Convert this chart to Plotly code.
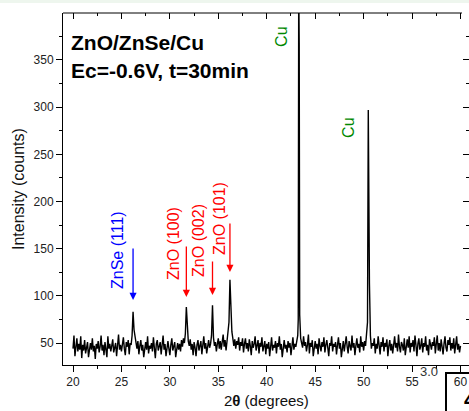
import numpy as np
import plotly.graph_objects as go

# ---- data ----
bg_start, bg_stop, bg_step = 20.0, 60.0, 0.1
bg_counts = [
    44, 58, 36, 47, 55, 41, 49, 43, 57, 34,
    48, 42, 53, 39, 46, 51, 35, 45, 50, 43,
    55, 41, 47, 33, 49, 44, 52, 40, 46, 58,
    42, 48, 37, 51, 45, 35, 57, 44, 49, 41,
    47, 54, 40, 46, 50, 36, 45, 59, 43, 48,
    41, 49, 56, 44, 37, 51, 46, 53, 38, 50,
    48, 58, 83, 64, 55, 50, 44, 52, 38, 47,
    53, 42, 48, 35, 46, 51, 43, 57, 39, 47,
    44, 50, 41, 56, 45, 34, 49, 53, 42, 48,
    51, 38, 46, 58, 43, 49, 36, 47, 52, 44,
    37, 48, 55, 42, 46, 51, 35, 45, 50, 43,
    49, 41, 53, 46, 55, 50, 60, 88, 62, 52,
    47, 54, 43, 49, 37, 51, 45, 36, 48, 53,
    42, 47, 52, 38, 46, 57, 44, 50, 39, 48,
    53, 45, 49, 58, 90, 56, 47, 51, 41, 49,
    55, 44, 52, 43, 50, 59, 46, 53, 42, 51,
    58, 72, 117, 78, 62, 55, 47, 54, 44, 52,
    48, 56, 42, 51, 47, 55, 40, 49, 55, 44,
    50, 41, 54, 47, 37, 52, 45, 49, 57, 42,
    48, 53, 39, 50, 46, 56, 41, 47, 52, 38,
    49, 44, 51, 36, 47, 56, 42, 48, 45, 52,
    39, 50, 46, 57, 43, 49, 35, 47, 53, 44,
    48, 40, 52, 45, 50, 37, 47, 56, 43, 49,
    46, 52, 58, 60, 62, 55, 50, 45, 57, 47,
    51, 41, 48, 59, 39, 50, 46, 53, 36, 47,
    52, 44, 49, 38, 55, 47, 41, 51, 46, 56,
    40, 48, 53, 45, 36, 50, 47, 57, 41, 49,
    46, 51, 38, 48, 56, 44, 50, 35, 47, 52,
    41, 49, 57, 46, 39, 52, 48, 42, 58, 45,
    50, 37, 47, 55, 45, 49, 40, 57, 46, 51,
    42, 52, 47, 62, 70, 90, 70, 52, 44, 50,
    47, 55, 39, 49, 44, 57, 48, 38, 51, 46,
    56, 41, 50, 46, 54, 36, 47, 53, 42, 49,
    39, 48, 57, 45, 50, 41, 59, 46, 40, 51,
    48, 42, 55, 37, 47, 54, 45, 57, 40, 50,
    46, 53, 41, 58, 48, 36, 49, 55, 43, 47,
    55, 40, 50, 46, 57, 42, 48, 37, 54, 47,
    43, 51, 47, 56, 39, 49, 58, 42, 50, 41,
    54, 46, 38, 49, 57, 45, 41, 53, 48, 56,
    42, 50, 44, 55, 39, 48, 57, 43, 49, 40,
    47,
]
cu_theta = [43.25, 43.3, 43.35, 43.4, 50.4, 50.48, 50.5, 50.55, 50.6, 50.7]
cu_counts = [75, 430, 368, 80, 72, 297, 245, 182, 113, 58]

peak_labels = ["ZnSe (111)", "ZnO (100)", "ZnO (002)", "ZnO (101)"]
peak_pos = [26.2, 31.7, 34.4, 36.2]
peak_colors = ["#0000ff", "#ff0000", "#ff0000", "#ff0000"]
arrow_tip = [95.6, 98.8, 100.9, 125.3]
arrow_tail = [151.8, 153.9, 138.0, 178.3]
label_x = [24.65, 30.32, 33.0, 35.07]
label_y = [148.6, 156.0, 159.2, 182.5]

cu_label_x = [41.57, 48.49]
cu_label_y = [374.4, 278.0]

x_ticks = [20, 25, 30, 35, 40, 45, 50, 55, 60]
y_ticks = [50, 100, 150, 200, 250, 300, 350]

# ---- assemble ----
bg_theta = np.round(np.arange(bg_start, bg_stop + 1e-6, bg_step), 2)
pts = {round(float(t), 2): float(c) for t, c in zip(bg_theta, bg_counts)}
for t, c in zip(cu_theta, cu_counts):
    pts[round(t, 2)] = float(c)
xs = sorted(pts)
ys = [pts[k] for k in xs]

FONT = "Liberation Sans, Arial, sans-serif"
xr = [18.968, 60.877]
yr = [26.68, 399.8]

fig = go.Figure()
fig.add_trace(go.Scatter(x=xs, y=ys, mode="lines",
                         line=dict(color="black", width=1.4), showlegend=False,
                         hoverinfo="skip"))
fig.add_trace(go.Scatter(x=[xr[0]], y=[yr[0]], xaxis="x2", yaxis="y2",
                         mode="markers", marker=dict(opacity=0),
                         showlegend=False, hoverinfo="skip"))

annotations = []
for lab, px, col, tip, tail, lx, ly in zip(peak_labels, peak_pos, peak_colors,
                                           arrow_tip, arrow_tail, label_x, label_y):
    annotations.append(dict(x=px, y=tip, ax=px, ay=tail, axref="x", ayref="y",
                            xref="x", yref="y", text="", showarrow=True,
                            arrowhead=2, arrowsize=1.1, arrowwidth=1.3,
                            arrowcolor=col))
    annotations.append(dict(x=lx, y=ly, xref="x", yref="y", text=lab,
                            textangle=-90, showarrow=False,
                            font=dict(family=FONT, size=16, color=col)))
for cx, cy in zip(cu_label_x, cu_label_y):
    annotations.append(dict(x=cx, y=cy, xref="x", yref="y", text="Cu",
                            textangle=-90, showarrow=False,
                            font=dict(family=FONT, size=16, color="#008800")))

annotations += [
    dict(x=(69 - 63) / 406, y=(365 - 42) / 352, xref="paper", yref="paper",
         xanchor="left", yanchor="middle", showarrow=False,
         text="<b>ZnO/ZnSe/Cu</b>", font=dict(family=FONT, size=21, color="black")),
    dict(x=(69 - 63) / 406, y=(365 - 70) / 352, xref="paper", yref="paper",
         xanchor="left", yanchor="middle", showarrow=False,
         text="<b>Ec=-0.6V, t=30min</b>", font=dict(family=FONT, size=21, color="black")),
    dict(x=(18 - 63) / 406, y=0.5, xref="paper", yref="paper", textangle=-90,
         xanchor="center", yanchor="middle", showarrow=False,
         text="Intensity (counts)", font=dict(family=FONT, size=16, color="#111")),
    dict(x=(266 - 63) / 406, y=(365 - 400) / 352, xref="paper", yref="paper",
         xanchor="center", yanchor="middle", showarrow=False,
         text="2<b>θ</b> (degrees)", font=dict(family=FONT, size=15, color="#111")),
    dict(x=(429 - 63) / 406, y=(365 - 371) / 352, xref="paper", yref="paper",
         xanchor="center", yanchor="middle", showarrow=False,
         text="3.0", font=dict(family=FONT, size=13, color="#333")),
    dict(x=(462 - 63) / 406, y=(365 - 399) / 352, xref="paper", yref="paper",
         xanchor="left", yanchor="middle", showarrow=False,
         text="<b>4</b>", font=dict(family=FONT, size=22, color="black")),
]

shapes = [
    dict(type="line", xref="paper", yref="paper", x0=0, x1=(462 - 63) / 406,
         y0=1, y1=1, line=dict(color="black", width=1)),
    dict(type="rect", xref="paper", yref="paper", x0=-0.2, x1=1.2,
         y0=(365 - 0) / 352 + 0.01, y1=(365 - 3) / 352,
         fillcolor="#eef6ee", line=dict(width=0)),
    dict(type="rect", xref="paper", yref="paper", x0=(446 - 63) / 406, x1=1.1,
         y0=-0.3, y1=(365 - 373) / 352, fillcolor="rgba(0,0,0,0)",
         line=dict(color="black", width=2)),
]

fig.update_layout(
    width=469, height=411,
    margin=dict(l=63, r=0, t=13, b=46),
    paper_bgcolor="white", plot_bgcolor="white",
    showlegend=False,
    font=dict(family=FONT, size=12, color="#222"),
    xaxis=dict(range=xr, tickvals=x_ticks, ticks="outside", ticklen=6,
               tickwidth=1, tickcolor="black", showline=True, linecolor="black",
               linewidth=1, showgrid=False, zeroline=False,
               minor=dict(dtick=2.5, tick0=20, ticks="outside", ticklen=3,
                          tickcolor="black", showgrid=False),
               tickfont=dict(family=FONT, size=12, color="#222")),
    xaxis2=dict(range=xr, overlaying="x", side="top", anchor="y",
                tickvals=x_ticks, ticks="inside", ticklen=6, tickcolor="black",
                showticklabels=False, showline=False, showgrid=False,
                zeroline=False,
                minor=dict(dtick=2.5, tick0=20, ticks="inside", ticklen=3,
                           tickcolor="black", showgrid=False)),
    yaxis=dict(range=yr, tickvals=y_ticks, ticks="outside", ticklen=6,
               tickwidth=1, tickcolor="black", showline=True, linecolor="black",
               linewidth=1, showgrid=False, zeroline=False,
               minor=dict(dtick=25, tick0=0, ticks="outside", ticklen=3,
                          tickcolor="black", showgrid=False),
               tickfont=dict(family=FONT, size=12, color="#222")),
    yaxis2=dict(range=yr, overlaying="y", side="right", anchor="x",
                tickvals=y_ticks, ticks="inside", ticklen=6, tickcolor="black",
                showticklabels=False, showline=False, showgrid=False,
                zeroline=False,
                minor=dict(dtick=25, tick0=0, ticks="inside", ticklen=3,
                           tickcolor="black", showgrid=False)),
    annotations=annotations,
    shapes=shapes,
)

fig.write_html("out.html")
